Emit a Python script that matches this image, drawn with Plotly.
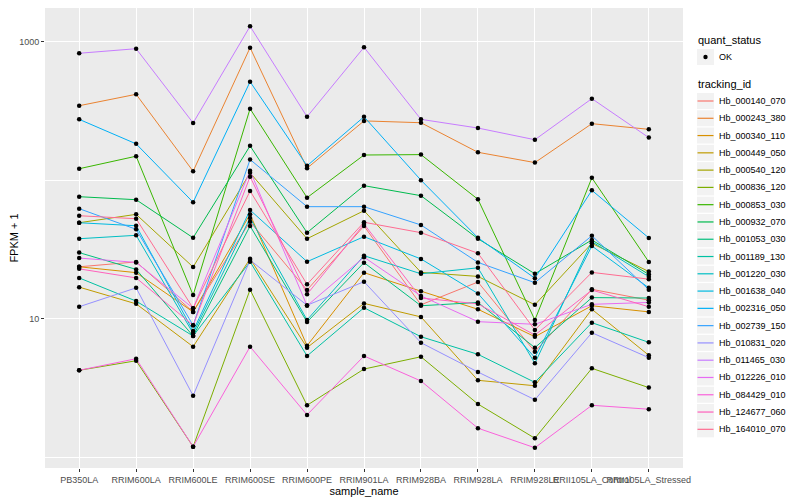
import plotly.graph_objects as go

samples = ["PB350LA", "RRIM600LA", "RRIM600LE", "RRIM600SE", "RRIM600PE", "RRIM901LA",
           "RRIM928BA", "RRIM928LA", "RRIM928LE", "RRII105LA_Control", "RRII105LA_Stressed"]

tracking_ids = ["Hb_000140_070", "Hb_000243_380", "Hb_000340_110", "Hb_000449_050", "Hb_000540_120",
                "Hb_000836_120", "Hb_000853_030", "Hb_000932_070", "Hb_001053_030", "Hb_001189_130",
                "Hb_001220_030", "Hb_001638_040", "Hb_002316_050", "Hb_002739_150", "Hb_010831_020",
                "Hb_011465_030", "Hb_012226_010", "Hb_084429_010", "Hb_124677_060", "Hb_164010_070"]

colors = ["#F8766D", "#EA8331", "#D89000", "#C09B00", "#A3A500", "#7CAE00", "#39B600", "#00BB4E",
          "#00BF7D", "#00C1A3", "#00BFC4", "#00BAE0", "#00B0F6", "#35A2FF", "#9590FF", "#C77CFF",
          "#E76BF3", "#FA62DB", "#FF62BC", "#FF6C91"]

quant_status = ["OK"]

# FPKM + 1 per sample (same order as samples)
hb_000140_070 = [23.7, 25.7, 11.2, 50.2, 16.1, 46.7, 12.6, 18.4, 5.78, 16.3, 13.6]
hb_000243_380 = [345, 417, 116, 905, 122, 268, 260, 159, 134, 256, 233]
hb_000340_110 = [23.7, 21.5, 11.2, 56.7, 6.38, 21.5, 15.8, 11.7, 7.41, 12.4, 11.2]
hb_000449_050 = [16.9, 12.8, 6.28, 27.1, 6.18, 12.9, 10.3, 3.59, 3.28, 11.7, 5.44]
hb_000540_120 = [49.3, 56.7, 23.6, 113, 37.8, 60.2, 21.6, 20.2, 12.6, 35.0, 21.9]
hb_000836_120 = [4.24, 4.97, 1.19, 16.2, 2.37, 4.33, 5.31, 2.42, 1.37, 4.38, 3.18]
hb_000853_030 = [121, 149, 14.8, 328, 74.8, 152, 153, 72.8, 9.79, 104, 25.7]
hb_000932_070 = [76.0, 72.3, 38.4, 177, 41.8, 91.3, 77.3, 37.8, 21.1, 37.0, 20.9]
hb_001053_030 = [30.0, 22.7, 7.50, 46.7, 9.47, 25.4, 12.4, 13.1, 6.18, 14.2, 14.1]
hb_001189_130 = [19.7, 13.4, 7.50, 25.8, 5.38, 12.0, 7.41, 5.53, 3.47, 9.36, 6.75]
hb_001220_030 = [37.8, 40.0, 7.84, 53.3, 9.79, 28.5, 21.1, 23.3, 4.76, 36.0, 20.1]
hb_001638_040 = [49.3, 46.9, 8.15, 60.9, 25.8, 39.1, 27.0, 15.2, 5.23, 33.5, 16.7]
hb_002316_050 = [275, 183, 69.3, 514, 127, 287, 100, 38.4, 19.6, 84.5, 38.3]
hb_002739_150 = [62.3, 44.2, 8.96, 141, 64.4, 64.4, 47.5, 25.5, 18.2, 39.7, 16.2]
hb_010831_020 = [12.2, 16.7, 2.78, 26.5, 12.5, 18.5, 6.71, 4.12, 2.60, 7.92, 5.23]
hb_011465_030 = [825, 890, 259, 1292, 287, 911, 275, 238, 196, 388, 203]
hb_012226_010 = [27.4, 25.5, 11.9, 117, 12.4, 27.8, 14.6, 9.52, 9.11, 12.7, 13.1]
hb_084429_010 = [4.24, 5.14, 1.19, 6.28, 2.02, 5.38, 3.55, 1.62, 1.17, 2.37, 2.22]
hb_124677_060 = [22.9, 19.7, 8.96, 106, 15.0, 48.3, 14.1, 12.8, 7.62, 16.1, 12.2]
hb_164010_070 = [55.4, 52.7, 11.9, 83.6, 17.7, 49.7, 41.8, 29.7, 8.29, 21.6, 19.3]

series = [hb_000140_070, hb_000243_380, hb_000340_110, hb_000449_050, hb_000540_120,
          hb_000836_120, hb_000853_030, hb_000932_070, hb_001053_030, hb_001189_130,
          hb_001220_030, hb_001638_040, hb_002316_050, hb_002739_150, hb_010831_020,
          hb_011465_030, hb_012226_010, hb_084429_010, hb_124677_060, hb_164010_070]

FONT = "Liberation Sans, Arial, sans-serif"
OFF = 8  # page body margin in the browser
W, H = 792, 492
ML, MR, MT, MB = 37, 117, 0, 32
PW, PH = W - ML - MR, H - MT - MB


def px(xr):
    """x position in the 800x500 window -> paper coordinate"""
    return (xr - OFF - ML) / PW


def py(yr):
    """y position in the 800x500 window -> paper coordinate"""
    return (H - MB - (yr - OFF)) / PH


fig = go.Figure()

for tid, vals, col in zip(tracking_ids, series, colors):
    fig.add_trace(go.Scatter(
        x=samples, y=vals, mode="lines", name=tid,
        line=dict(color=col, width=1), showlegend=False, hoverinfo="skip"))

all_x = [s for _ in series for s in samples]
all_y = [v for vals in series for v in vals]
fig.add_trace(go.Scatter(
    x=all_x, y=all_y, mode="markers", name=quant_status[0], showlegend=False,
    marker=dict(color="black", size=4.5, symbol="circle")))

# ---- ggplot-style legend drawn with shapes and texts ----
shapes = []
annotations = []
KX0, KX1 = 697, 714
TX = 717


def key_box(yc):
    shapes.append(dict(type="rect", xref="paper", yref="paper",
                       x0=px(KX0), x1=px(KX1), y0=py(yc + 8), y1=py(yc - 8),
                       fillcolor="#F2F2F2", line=dict(width=0), layer="above"))


annotations.append(dict(text="quant_status", xref="paper", yref="paper", x=px(696), y=py(40.5),
                        xanchor="left", yanchor="middle", showarrow=False,
                        font=dict(size=11, color="black", family=FONT)))
key_box(57)
cx = (KX0 + KX1) / 2
shapes.append(dict(type="circle", xref="paper", yref="paper",
                   x0=px(cx - 2.2), x1=px(cx + 2.2), y0=py(57 + 2.2), y1=py(57 - 2.2),
                   fillcolor="black", line=dict(width=0), layer="above"))
annotations.append(dict(text=quant_status[0], xref="paper", yref="paper", x=px(TX), y=py(57),
                        xanchor="left", yanchor="middle", showarrow=False,
                        font=dict(size=9, color="black", family=FONT)))

annotations.append(dict(text="tracking_id", xref="paper", yref="paper", x=px(696), y=py(84.5),
                        xanchor="left", yanchor="middle", showarrow=False,
                        font=dict(size=11, color="black", family=FONT)))
for i, (tid, col) in enumerate(zip(tracking_ids, colors)):
    yc = 101 + 17.28 * i
    key_box(yc)
    shapes.append(dict(type="line", xref="paper", yref="paper",
                       x0=px(KX0 + 0.5), x1=px(KX1 - 0.5), y0=py(yc), y1=py(yc),
                       line=dict(color=col, width=1.2), layer="above"))
    annotations.append(dict(text=tid, xref="paper", yref="paper", x=px(TX), y=py(yc),
                            xanchor="left", yanchor="middle", showarrow=False,
                            font=dict(size=9, color="black", family=FONT)))

fig.update_layout(
    width=W, height=H,
    margin=dict(l=ML, r=MR, t=MT, b=MB, autoexpand=False),
    paper_bgcolor="white", plot_bgcolor="#EBEBEB",
    font=dict(family=FONT, size=9, color="black"),
    showlegend=False,
    shapes=shapes, annotations=annotations,
)

fig.update_layout(xaxis=dict(
    type="category", categoryorder="array", categoryarray=samples,
    range=[-0.6, 10.6], showgrid=True, gridcolor="white", gridwidth=1,
    zeroline=False, showline=False, tickangle=0, automargin=False,
    ticks="outside", ticklen=3, tickcolor="#333333", tickwidth=1,
    tickfont=dict(size=9, color="#4D4D4D", family=FONT),
    title=dict(text="sample_name", font=dict(size=11, color="black", family=FONT), standoff=2),
))

fig.update_layout(yaxis=dict(
    type="log", range=[-0.078, 3.2433],
    tickmode="array", tickvals=[10, 1000], ticktext=["10", "1000"],
    showgrid=True, gridcolor="white", gridwidth=1,
    minor=dict(tickmode="array", tickvals=[1, 100], showgrid=True, gridcolor="white", gridwidth=0.5, ticks=""),
    zeroline=False, showline=False, automargin=False,
    ticks="outside", ticklen=3, tickcolor="#333333", tickwidth=1,
    tickfont=dict(size=9, color="#4D4D4D", family=FONT),
    title=dict(text="FPKM + 1", font=dict(size=11, color="black", family=FONT), standoff=6),
))

fig.write_html("out.html")
